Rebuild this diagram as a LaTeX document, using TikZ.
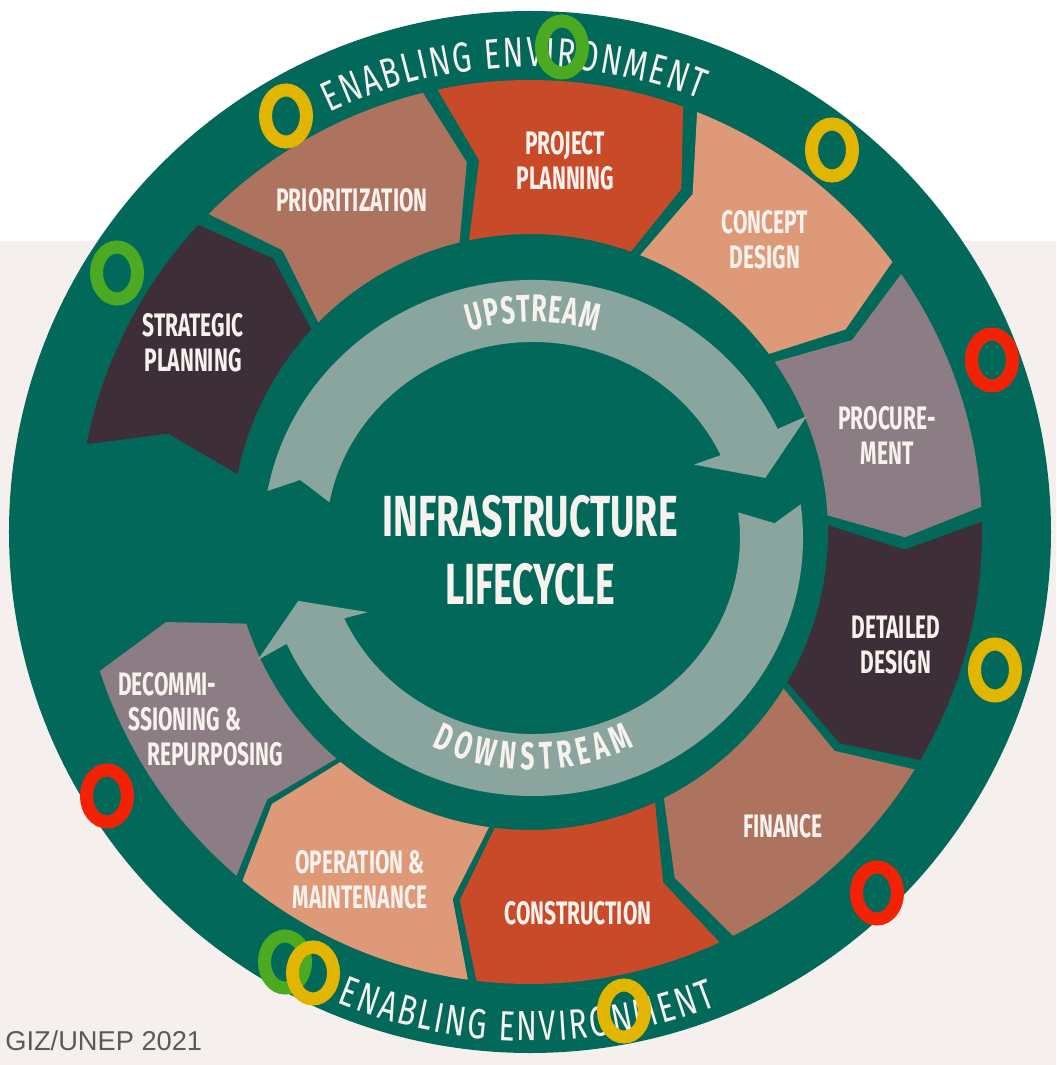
\documentclass[tikz,border=0pt]{standalone}
\usepackage{fontspec}
\setmainfont{Liberation Sans}
\newfontfamily\segfont{Fira Sans}[FakeStretch=0.645]
\newfontfamily\envfont{Fira Sans}[FakeStretch=0.72]
\usetikzlibrary{decorations.text}

\definecolor{envgreen}{HTML}{02695A}
\definecolor{arrowgray}{HTML}{8AA59E}
\definecolor{plum}{HTML}{3D2E37}
\definecolor{rose}{HTML}{AD735E}
\definecolor{rust}{HTML}{C84A29}
\definecolor{salmon}{HTML}{DE9978}
\definecolor{mauve}{HTML}{8C7C83}
\definecolor{bgpink}{HTML}{F5F0EE}
\definecolor{labelwhite}{HTML}{F7F2EE}
\definecolor{notegray}{HTML}{5A5A5A}
\definecolor{ringyellow}{HTML}{E2B500}
\definecolor{ringgreen}{HTML}{4BAA22}
\definecolor{ringred}{HTML}{F42205}

\newcommand{\segsize}{\segfont\bfseries\fontsize{18.5}{19.9}\selectfont}
\newcommand{\titlesize}{\segfont\bfseries\fontsize{33}{38.7}\selectfont}
\newcommand{\streamsize}{\segfont\bfseries\fontsize{22}{24}\selectfont}
\newcommand{\envsize}{\envfont\fontsize{24}{26}\selectfont}

\begin{document}
\begin{tikzpicture}[x=0.02cm, y=0.02cm,
    seglabel/.style={text=labelwhite, align=center, inner sep=0pt, font=\segsize},
    curvetext/.style={decorate, decoration={text along path, text align={fit to path},
        text color=labelwhite, text={#1}}}]

        % Page: white top, pale band below
        \fill[white] (-530,-533) rectangle (526,532);
        \fill[bgpink] (-530,-533) rectangle (526,291);
        \useasboundingbox (-530,-533) rectangle (526,532);

        % Enabling environment disc
        \fill[envgreen] (0,0) circle[radius=521];

        % Lifecycle segments, clockwise from strategic planning
        \foreach \segmid/\col in {153/plum,119.5/rose,86/rust,52.5/salmon,19/mauve,
                -14.5/plum,-47.5/rose,-81/rust,-113.7/salmon,-146.3/mauve}{
            \pgfmathsetmacro{\segL}{\segmid+15.8}
            \pgfmathsetmacro{\segR}{\segmid-15.8}
            \pgfmathsetmacro{\segT}{\segR-4}
            \pgfmathsetmacro{\segN}{\segL-4}
            \fill[\col] (\segL:452) arc[start angle=\segL, end angle=\segR, radius=452]
                -- (\segT:375) -- (\segR:298)
                arc[start angle=\segR, end angle=\segL, radius=298]
                -- (\segN:375) -- cycle;
        }

        % Upstream / downstream arrows
        \begin{scope}[shift={(3,-6)}]
            \fill[arrowgray] (169.5:270 and 258)
                arc[start angle=169.5, end angle=25, x radius=270, y radius=258]
                -- (24:300) -- (14.5:240) -- (24.5:177) -- (25:207 and 196)
                arc[start angle=25, end angle=169.5, x radius=207, y radius=196]
                -- (166:240) -- cycle;
            \fill[arrowgray] (7.5:270 and 258)
                arc[start angle=7.5, end angle=-155.8, x radius=270, y radius=258]
                -- (-156.1:301) -- (-165:243) -- (-155.8:181) -- (-155.8:207 and 196)
                arc[start angle=-155.8, end angle=7.5, x radius=207, y radius=196]
                -- (3.5:242) -- cycle;

            \path[curvetext={|\streamsize|UPSTREAM}] (107:216) arc[start angle=107, end angle=73, radius=216];
            \path[curvetext={|\streamsize|DOWNSTREAM}] (-116:232) arc[start angle=-116, end angle=-64, radius=232];
        \end{scope}

        % Ring texts
        \path[curvetext={|\envsize|ENABLING ENVIRONMENT}] (115.5:465) arc[start angle=115.5, end angle=68.5, radius=465];
        \path[curvetext={|\envsize|ENABLING ENVIRONMENT}] (-112.3:509) arc[start angle=-112.3, end angle=-68.5, radius=509];

        % Segment labels
        \node[seglabel] (strategic) at (-337,189) {STRATEGIC\\PLANNING};
        \node[seglabel] (prioritization) at (-178,332) {PRIORITIZATION};
        \node[seglabel] (project) at (35,371) {PROJECT\\PLANNING};
        \node[seglabel] (concept) at (235,292) {CONCEPT\\DESIGN};
        \node[seglabel] (procurement) at (357,97) {PROCURE-\\MENT};
        \node[seglabel] (detailed) at (366,-113) {DETAILED\\DESIGN};
        \node[seglabel] (finance) at (253,-294) {FINANCE};
        \node[seglabel] (construction) at (48,-381) {CONSTRUCTION};
        \node[seglabel] (operation) at (-170,-348) {OPERATION \&\\MAINTENANCE};
        \node[seglabel, align=left, anchor=west] (decommissioning) at (-412,-187)
            {DECOMMI-\\\hspace{5.7pt}SSIONING \&\\\hspace{16.5pt}REPURPOSING};

        % Centre title
        \node[text=labelwhite, align=center, font=\titlesize] (title) at (0,-18) {INFRASTRUCTURE\\LIFECYCLE};

        % Source note
        \node[anchor=base west, inner sep=0pt, text=notegray, font=\fontsize{15.5}{18}\selectfont] (source) at (-525,-518) {GIZ/UNEP 2021};

        % Rating rings
        \foreach \mx/\my/\col in {-244/416/ringyellow, 32/485/ringgreen, 302/382/ringyellow,
                -413/259/ringgreen, 462/172/ringred, 465/-138/ringyellow, -423/-264/ringred,
                347/-361/ringred, -245/-430/ringgreen, -217/-441/ringyellow, 94/-479/ringyellow}
            \draw[\col, line width=7.4pt] (\mx,\my) ellipse[x radius=20.5, y radius=26];

\end{tikzpicture}
\end{document}
